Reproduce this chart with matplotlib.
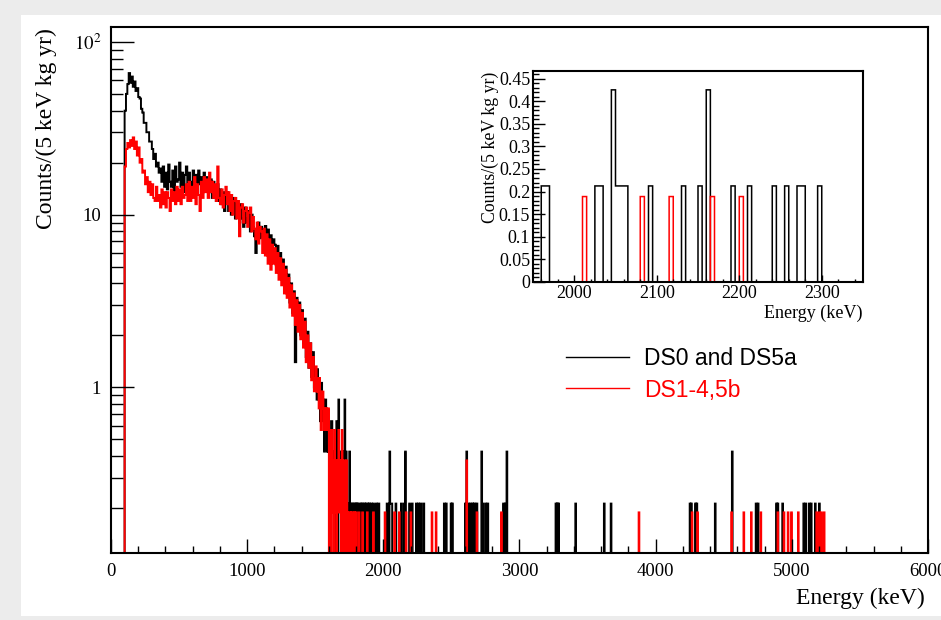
import numpy as np
import matplotlib
matplotlib.use("Agg")
import matplotlib.pyplot as plt
from matplotlib.ticker import FixedLocator, FixedFormatter, MultipleLocator, LogLocator, NullFormatter, FuncFormatter
from matplotlib.patches import Rectangle
from matplotlib.lines import Line2D

plt.rcParams['font.family'] = ['Liberation Serif', 'DejaVu Serif']
plt.rcParams['mathtext.fontset'] = 'stix'

# histogram binning (keV)
bin_width = 5
emax = 6000

# one count in a 5 keV bin, in counts/(5 keV kg yr)
black_scale = 0.2125
red_scale = 0.189

# continuum, counts/(5 keV kg yr), one value per 10 keV from 100 to 1500 keV
cont_start = 100
black_cont = [
    40, 50, 57, 66, 58, 63, 55, 59, 52, 54,
    48, 47, 41, 39, 34, 34, 30, 30, 26.5, 26.5,
    24, 21, 22.5, 19, 20, 17.5, 18.5, 15.5, 19, 14.5,
    17.5, 14, 19.5, 15.5, 14.5, 18, 13.5, 19, 15.5, 16,
    20, 14.5, 17.5, 13.5, 17, 19, 14, 17.5, 15.5, 14,
    18, 14.5, 17, 13, 18, 15, 16.5, 13.5, 17.5, 14.5,
    16.5, 15, 13.5, 16, 12.5, 15.5, 14, 12, 15, 12,
    14, 11.5, 13.5, 10.5, 13, 13.5, 10.5, 12.5, 10, 12,
    12.5, 9.5, 11.5, 10, 9, 11.5, 9.5, 8.5, 11, 9,
    9.5, 10.5, 8, 10, 8.5, 7.5, 6, 8, 9, 7.3,
    8.5, 7.5, 7.6, 8.6, 6.3, 8.2, 6, 7.6, 5.8, 7.2,
    6.7, 5.1, 6.6, 4.8, 6, 4.4, 5.5, 3.9, 5, 3.5,
    4.5, 3.1, 4, 2.7, 3.6, 1.4, 3.3, 2.2, 3.1, 2.0,
    2.8, 1.8, 2.5, 1.5, 2.1, 1.3, 1.8, 1.15, 1.6, 1.0,
]
red_cont = [
    19, 24, 26, 24.5, 27, 25, 28, 24, 26.5, 22,
    24.5, 20, 21, 17.5, 18, 15, 16.5, 13.5, 15.5, 13,
    15, 12.5, 12, 14.5, 12, 13, 11, 14, 11.5, 13.5,
    11, 13.5, 12.5, 10.5, 14, 12, 13.5, 11.5, 14.5, 12,
    14, 11.5, 14.5, 12.5, 13, 15, 12, 15.5, 12, 14.5,
    12.5, 16.5, 11.5, 15, 13, 10.5, 15.5, 12.5, 16.5, 13.5,
    16, 12.5, 17.5, 13.5, 15.5, 12.5, 15, 12, 19, 12.5,
    11.5, 14, 11, 13, 14.5, 11.5, 13.5, 10.5, 13, 10,
    12, 12.5, 9.5, 12, 7.5, 11, 11.5, 9, 10.5, 11,
    8.5, 10.3, 11, 8, 9.7, 8.3, 7.2, 9, 6.8, 8.5,
    8, 6, 8.3, 5.8, 7.7, 5.2, 7.2, 4.8, 6.7, 5.2,
    6.4, 4.6, 6, 4.2, 5.6, 3.9, 5.2, 3.5, 4.8, 3.3,
    4.3, 2.9, 3.9, 2.6, 3.5, 2.3, 3.2, 2.1, 3.0, 1.9,
    2.7, 1.7, 2.4, 1.4, 2.0, 1.3, 1.8, 1.1, 1.5, 0.95,
]

# raw counts per 5 keV bin from 1500 to 1950 keV
mid_start = 1500
black_mid = [
    6, 5, 4, 6, 5, 4, 5, 3, 4, 5, 4, 3, 4, 2, 3, 4, 3, 2,
    3, 2, 3, 1, 0, 2, 3, 2, 1, 2, 0, 2, 1, 3, 2, 0, 4, 1,
    2, 1, 0, 2, 1, 2, 0, 4, 1, 2, 0, 1, 1, 0, 2, 1, 0, 1,
    1, 0, 1, 1, 0, 1, 0, 1, 0, 1, 1, 0, 0, 1, 0, 1, 0, 0,
    1, 0, 1, 0, 0, 1, 0, 1, 0, 0, 1, 0, 0, 1, 0, 0, 0, 1,
]
red_mid = [
    6, 7, 5, 6, 5, 4, 6, 5, 3, 5, 4, 5, 3, 4, 4, 3, 4, 3,
    3, 4, 0, 3, 2, 0, 3, 1, 2, 0, 3, 2, 1, 0, 2, 1, 3, 2,
    1, 2, 0, 3, 1, 0, 2, 2, 1, 0, 2, 1, 0, 1, 1, 0, 1, 0,
    1, 0, 0, 1, 0, 1, 1, 0, 0, 0, 1, 0, 0, 0, 0, 1, 0, 0,
    0, 0, 0, 0, 1, 0, 0, 0, 0, 0, 0, 0, 0, 1, 0, 0, 0, 0,
]

# single events above 1950 keV (bin start energy, repeated = 2 counts)
black_tail = [
    1960, 1965, 2025, 2030, 2045, 2045, 2050, 2055, 2060, 2090,
    2130, 2150, 2160, 2160, 2190, 2210, 2240, 2255, 2270, 2275, 2295,
    2445, 2460, 2495, 2505, 2600, 2610, 2610, 2625, 2640, 2655,
    2665, 2670, 2685, 2720, 2720, 2730, 2750, 2765, 2880, 2895,
    2905, 2905, 3265, 3275, 3285, 3410, 3620, 3670, 4250, 4260,
    4290, 4300, 4435, 4560, 4560, 4735, 4750, 4885, 4895, 4930,
    5085, 5100, 5125, 5140, 5170, 5200,
]
red_tail = [
    2010, 2080, 2115, 2165, 2200, 2355, 2385, 2610, 2610, 2685,
    2865, 3875, 4265, 4305, 4555, 4645, 4700, 4770, 4895, 4940,
    4970, 4995, 5045, 5180, 5200, 5215, 5235,
]

edges = np.arange(0, emax + bin_width, bin_width)


def build(cont, mid, tail, scale):
    vals = np.zeros(len(edges) - 1)
    c = np.repeat(cont, 2)
    i0 = cont_start // bin_width
    vals[i0:i0 + len(c)] = c
    i1 = mid_start // bin_width
    vals[i1:i1 + len(mid)] = np.array(mid) * scale
    h, _ = np.histogram(tail, bins=edges)
    vals += h * scale
    return vals


black = build(black_cont, black_mid, black_tail, black_scale)
red = build(red_cont, red_mid, red_tail, red_scale)

fig = plt.figure(figsize=(9.41, 6.2), dpi=100, facecolor='#ececec')
fig.add_artist(Rectangle((21 / 941, 4 / 620), 1, 1 - 19 / 620, transform=fig.transFigure,
                         facecolor='white', edgecolor='none', zorder=0))

# main spectrum
ax = fig.add_axes([111 / 941, 67 / 620, 817 / 941, 526 / 620])
ax.stairs(np.where(black > 0, black, 1e-3), edges, color='black', lw=1.4, baseline=None)
ax.stairs(np.where(red > 0, red, 1e-3), edges, color='#ff0000', lw=1.4, baseline=None)
ax.set_yscale('log')
ax.set_xlim(0, 6000)
ax.set_ylim(0.110, 122)
ax.xaxis.set_major_locator(MultipleLocator(1000))
ax.xaxis.set_minor_locator(MultipleLocator(200))
ax.yaxis.set_major_locator(FixedLocator([1, 10, 100]))
ax.yaxis.set_major_formatter(FixedFormatter(['1', '10', '$10^{2}$']))
ax.yaxis.set_minor_locator(LogLocator(subs=range(2, 10)))
ax.yaxis.set_minor_formatter(NullFormatter())
ax.tick_params(which='both', direction='in', top=False, right=False, width=1)
ax.tick_params(axis='x', which='major', length=10, labelsize=13.5, pad=7)
ax.tick_params(axis='x', which='minor', length=5)
ax.tick_params(axis='y', which='major', length=16.5, labelsize=13.5, pad=7)
ax.tick_params(axis='y', which='minor', length=8.5)
for s in ax.spines.values():
    s.set_linewidth(1.5)

fig.text(925 / 941, 1 - 598 / 620, 'Energy (keV)', ha='right', va='center', fontsize=17)
fig.text(46 / 941, 1 - 28 / 620, 'Counts/(5 keV kg yr)', rotation=90, ha='center', va='top', fontsize=17)

handles = [Line2D([], [], color='black', lw=1.0), Line2D([], [], color='#ff0000', lw=1.0)]
ax.legend(handles, ['DS0 and DS5a', 'DS1-4,5b'], loc='center left',
          bbox_to_anchor=(566 / 941, 1 - 374.5 / 620), bbox_transform=fig.transFigure,
          frameon=False, prop={'family': 'Liberation Sans', 'size': 16.5},
          handlelength=2.75, handletextpad=0.65, labelspacing=0.35,
          borderpad=0, borderaxespad=0, labelcolor='linecolor')

# inset around Q-value
axin = fig.add_axes([533 / 941, (620 - 282) / 620, 330 / 941, 211 / 620])
axin.stairs(black, edges, color='black', lw=1.1, baseline=None)
axin.stairs(red, edges, color='#ff0000', lw=1.1, baseline=None)
axin.set_xlim(1950, 2350)
axin.set_ylim(0, 0.4667)
axin.xaxis.set_major_locator(MultipleLocator(100))
axin.xaxis.set_minor_locator(MultipleLocator(20))
axin.yaxis.set_major_locator(MultipleLocator(0.05))
axin.yaxis.set_minor_locator(MultipleLocator(0.01))
axin.yaxis.set_major_formatter(FuncFormatter(lambda v, p: '%g' % round(v, 2)))
axin.tick_params(which='both', direction='in', top=False, right=False, width=1)
axin.tick_params(axis='x', which='major', length=5, labelsize=13, pad=2)
axin.tick_params(axis='x', which='minor', length=2.5)
axin.tick_params(axis='y', which='major', length=8.5, labelsize=13, pad=2)
axin.tick_params(axis='y', which='minor', length=4.5)
for s in axin.spines.values():
    s.set_linewidth(1.5)

fig.text(862 / 941, 1 - 313 / 620, 'Energy (keV)', ha='right', va='center', fontsize=13)
fig.text(490 / 941, 1 - 72 / 620, 'Counts/(5 keV kg yr)', rotation=90, ha='center', va='top', fontsize=12.8)

fig.savefig('out.png', dpi=100, facecolor=fig.get_facecolor())
